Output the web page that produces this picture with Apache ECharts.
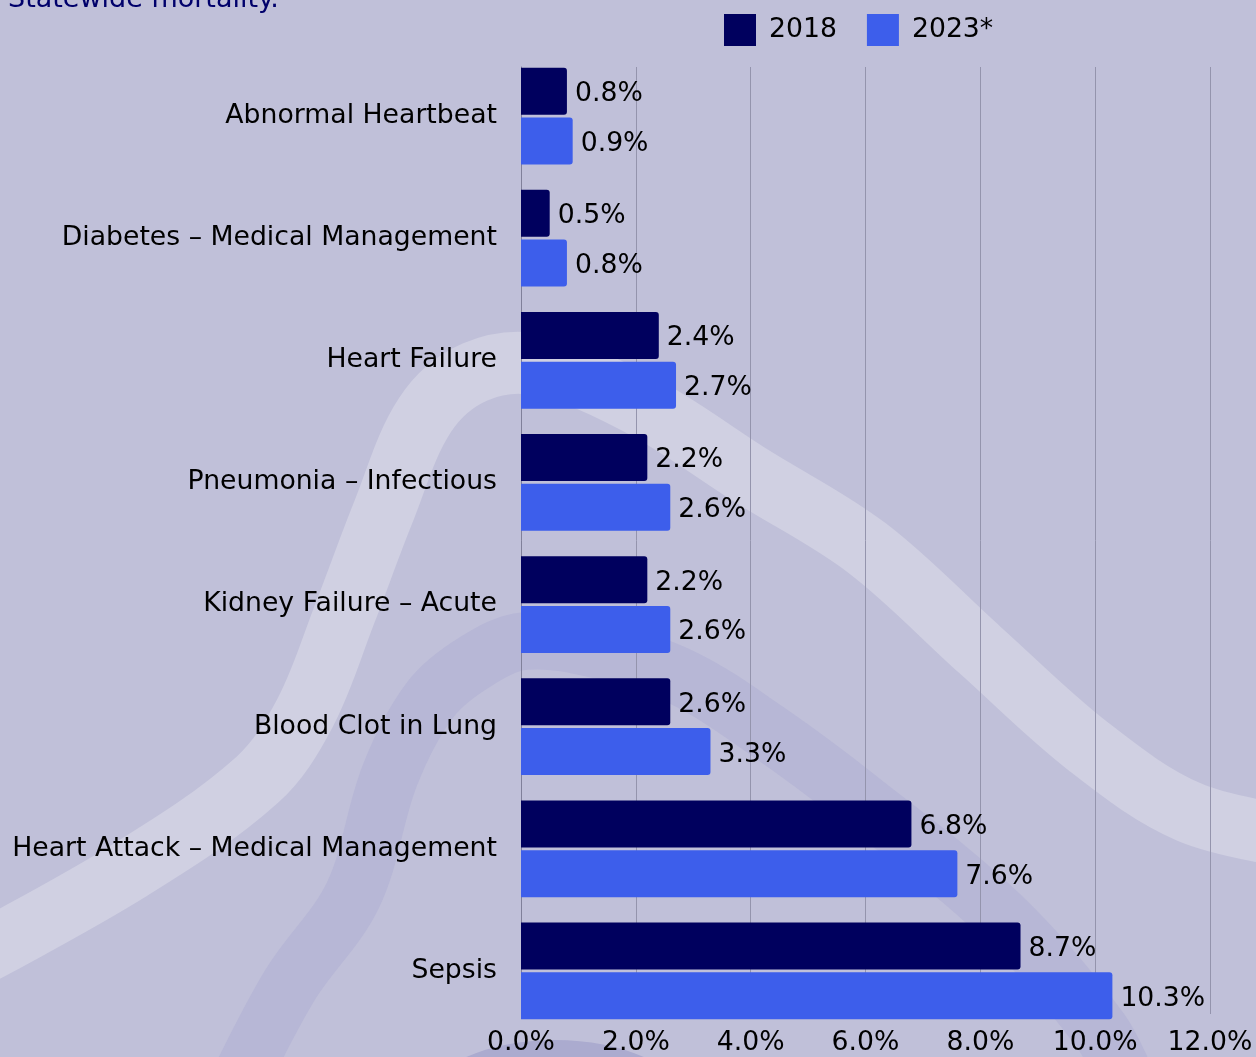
<!DOCTYPE html>
<html>
<head>
<meta charset="utf-8">
<title>Statewide mortality</title>
<script src="https://cdn.jsdelivr.net/npm/echarts@6/dist/echarts.min.js"></script>
<style>
  html, body { margin: 0; padding: 0; background: #c0c0d9; }
  #main { width: 1256px; height: 1057px; }
</style>
</head>
<body>
<div id="main"></div>
<script>
  // data
  var categories = ['Abnormal Heartbeat', 'Diabetes – Medical Management', 'Heart Failure',
    'Pneumonia – Infectious', 'Kidney Failure – Acute', 'Blood Clot in Lung',
    'Heart Attack – Medical Management', 'Sepsis'];
  var values2018 = [0.8, 0.5, 2.4, 2.2, 2.2, 2.6, 6.8, 8.7];
  var values2023 = [0.9, 0.8, 2.7, 2.6, 2.6, 3.3, 7.6, 10.3];
  var seriesNames = ['2018', '2023*'];
  var axisTicks = [0, 2, 4, 6, 8, 10, 12];

  var FONT = 'DejaVu Sans, Verdana, sans-serif';
  var FS = 26.7;
  var pct = function (v) { return Number(v).toFixed(1) + '%'; };

  // background swooshes (decoration only)
  var lightCurve = [[-40, 965], [130, 870], [257, 780], [305, 713], [345, 613], [383, 513],
    [425, 415], [475, 372], [540, 365], [640, 405], [750, 475], [867, 548], [980, 650],
    [1089, 747], [1189, 812], [1300, 838]];
  var darkCurve = [[235, 1090], [290, 985], [353, 895], [390, 775], [430, 700], [475, 662],
    [525, 641], [600, 650], [683, 678], [767, 731], [860, 800], [1000, 915], [1100, 1030],
    [1130, 1090]];

  var chart = echarts.init(document.getElementById('main'));
  var option = {
    backgroundColor: '#c0c0d9',
    textStyle: { fontFamily: FONT },
    graphic: [
      { type: 'polyline', z: -10, silent: true,
        shape: { points: lightCurve, smooth: 0.35 },
        style: { stroke: '#d0d0e2', lineWidth: 62, fill: null } },
      { type: 'polyline', z: -10, silent: true,
        shape: { points: darkCurve, smooth: 0.35 },
        style: { stroke: '#b7b7d6', lineWidth: 58, fill: null } },
      { type: 'ellipse', z: -9, silent: true,
        shape: { cx: 555, cy: 1115, rx: 140, ry: 75 },
        style: { fill: '#ababcf' } },
      { type: 'text', left: 8, top: -14, silent: true,
        style: { text: 'Statewide mortality.', font: '27px ' + FONT, fill: '#00006b' } }
    ],
    legend: {
      data: seriesNames,
      left: 724,
      top: 14,
      padding: 0,
      icon: 'rect',
      itemWidth: 32,
      itemHeight: 32,
      itemGap: 30,
      textStyle: { fontSize: FS, color: '#000', fontFamily: FONT, padding: [3, 0, 0, 8] }
    },
    grid: [
      { left: 521, right: 46, top: 55, bottom: 25 },   // bars
      { left: 521, right: 46, top: 67, bottom: 37 }    // gridlines + tick labels
    ],
    xAxis: [
      { gridIndex: 0, type: 'value', min: 0, max: 12, interval: 2, show: false },
      {
        gridIndex: 1, type: 'value', min: axisTicks[0], max: axisTicks[axisTicks.length - 1], interval: 2,
        axisLine: { show: false },
        axisTick: { show: false },
        splitLine: { show: true, lineStyle: { color: '#9494ad', width: 1 } },
        axisLabel: { formatter: pct, fontSize: FS, color: '#000', margin: 16, fontFamily: FONT }
      }
    ],
    yAxis: [
      {
        gridIndex: 0, type: 'category', data: categories, inverse: true,
        axisLine: { show: false },
        axisTick: { show: false },
        axisLabel: { fontSize: FS, color: '#000', margin: 24, fontFamily: FONT }
      },
      {
        gridIndex: 1, type: 'value', min: 0, max: 1,
        axisLine: { show: true, lineStyle: { color: '#80809a', width: 1 } },
        axisTick: { show: false },
        axisLabel: { show: false },
        splitLine: { show: false }
      }
    ],
    series: [
      {
        name: seriesNames[0], type: 'bar', xAxisIndex: 0, yAxisIndex: 0,
        data: values2018, barWidth: 47, barGap: '6%',
        itemStyle: { color: '#00005e', borderRadius: [0, 3, 3, 0] },
        label: { show: true, position: 'right', distance: 8, offset: [0, 3],
          formatter: function (p) { return pct(p.value); },
          fontSize: FS, color: '#000', fontFamily: FONT }
      },
      {
        name: seriesNames[1], type: 'bar', xAxisIndex: 0, yAxisIndex: 0,
        data: values2023, barWidth: 47, barGap: '6%',
        itemStyle: { color: '#3d5eeb', borderRadius: [0, 3, 3, 0] },
        label: { show: true, position: 'right', distance: 8, offset: [0, 3],
          formatter: function (p) { return pct(p.value); },
          fontSize: FS, color: '#000', fontFamily: FONT }
      }
    ]
  };
  chart.setOption(option);
</script>
</body>
</html>
